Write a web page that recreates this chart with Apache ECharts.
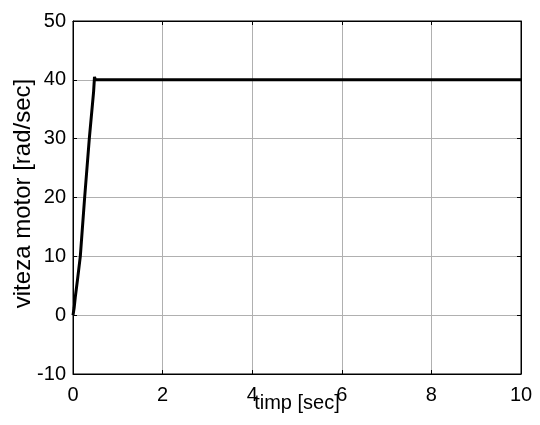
<!DOCTYPE html>
<html>
<head>
<meta charset="utf-8">
<script src="https://cdn.jsdelivr.net/npm/echarts@6/dist/echarts.min.js"></script>
<style>
  html, body { margin: 0; padding: 0; background: #fff; }
  #chart { width: 540px; height: 425px; }
</style>
</head>
<body>
<div id="chart"></div>
<script>
// motor speed step response
var timeValues = [0, 0.025, 0.05, 0.1, 0.163, 0.26, 0.364, 0.46, 0.48, 0.5, 10];
var speedValues = [0, 1.2, 3, 6, 10, 20, 30, 38, 40.5, 40, 40];
var xTicks = [0, 2, 4, 6, 8, 10];
var yTicks = [-10, 0, 10, 20, 30, 40, 50];

var points = timeValues.map(function (t, i) { return [t, speedValues[i]]; });
var font = 'Liberation Sans, Arial, sans-serif';

var myChart = echarts.init(document.getElementById('chart'));

var gridLine = { show: true, lineStyle: { color: '#b0b0b0', width: 1 } };

myChart.setOption({
    animation: false,
    grid: {
        left: 73,
        right: 19,
        top: 21,
        bottom: 51,
        outerBoundsMode: 'none',
        show: true,
        borderColor: '#000',
        borderWidth: 1,
    },
    xAxis: [{
        type: 'value',
        min: xTicks[0],
        max: xTicks[xTicks.length - 1],
        interval: 2,
        name: 'timp [sec]',
        nameLocation: 'middle',
        nameGap: 19,
        nameMoveOverlap: false,
        nameTextStyle: { color: '#000', fontSize: 20, fontFamily: font },
        axisLine: { show: true, onZero: false, lineStyle: { color: '#000', width: 1 } },
        axisTick: { show: true, inside: true, length: 4, lineStyle: { color: '#000' } },
        axisLabel: { color: '#000', fontSize: 20, fontFamily: font, margin: 11 },
        splitLine: gridLine,
    }, {
        type: 'value',
        position: 'top',
        min: xTicks[0],
        max: xTicks[xTicks.length - 1],
        interval: 2,
        axisLine: { show: true, onZero: false, lineStyle: { color: '#000', width: 1 } },
        axisTick: { show: true, inside: true, length: 4, lineStyle: { color: '#000' } },
        axisLabel: { show: false },
        splitLine: { show: false },
    }],
    yAxis: [{
        type: 'value',
        min: yTicks[0],
        max: yTicks[yTicks.length - 1],
        interval: 10,
        name: 'viteza motor [rad/sec]',
        nameLocation: 'middle',
        nameGap: 38,
        nameMoveOverlap: false,
        nameTextStyle: { color: '#000', fontSize: 24, fontFamily: font, padding: [0, 0, 0, 8] },
        axisLine: { show: true, onZero: false, lineStyle: { color: '#000', width: 1 } },
        axisTick: { show: true, inside: true, length: 4, lineStyle: { color: '#000' } },
        axisLabel: { color: '#000', fontSize: 20, fontFamily: font, margin: 7 },
        splitLine: gridLine,
    }, {
        type: 'value',
        position: 'right',
        min: yTicks[0],
        max: yTicks[yTicks.length - 1],
        interval: 10,
        axisLine: { show: true, onZero: false, lineStyle: { color: '#000', width: 1 } },
        axisTick: { show: true, inside: true, length: 4, lineStyle: { color: '#000' } },
        axisLabel: { show: false },
        splitLine: { show: false },
    }],
    series: [{
        type: 'line',
        data: points,
        xAxisIndex: 0,
        yAxisIndex: 0,
        showSymbol: false,
        lineStyle: { color: '#000', width: 3 },
    }],
});
</script>
</body>
</html>
